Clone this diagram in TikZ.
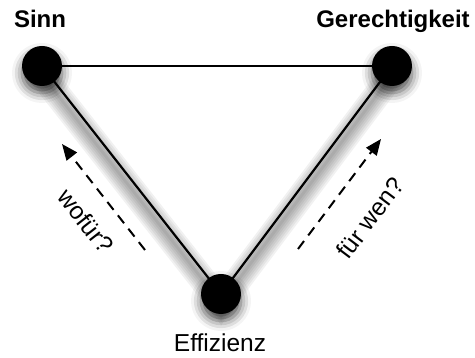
\documentclass[tikz,border=0pt]{standalone}
\usepackage{fontspec}
\setmainfont{Liberation Sans}
\usetikzlibrary{arrows.meta,shadows.blur}
\begin{document}
\begin{tikzpicture}[x=1pt,y=-1pt,
  dot/.style={circle,fill=black,minimum size=40pt,inner sep=0pt,
    blur shadow={shadow xshift=0pt,shadow yshift=-7pt,shadow blur radius=10pt,shadow opacity=70}},
  edge/.style={line width=2.2pt,black},
  shade/.style={line width=#1,black,opacity=0.055,line cap=round},
  lbl/.style={font=\fontsize{24}{28}\selectfont\bfseries,anchor=base},
  txt/.style={font=\fontsize{24.5}{28}\selectfont},
  darrow/.style={line width=2pt,dash pattern=on 10pt off 7pt,-{Triangle[length=16pt,width=13pt]}}]
\useasboundingbox (0,0) rectangle (475,358);
\coordinate (S) at (42,66);
\coordinate (G) at (392,66);
\coordinate (E) at (221,294);
% shadows of edges
\foreach \w in {3,7,11,15,19,23,27}{
  \draw[shade=\w pt] ([yshift=-9pt]S) -- ([yshift=-9pt]E) -- ([yshift=-9pt]G);
}
\draw[edge] (S) -- (G);
\draw[edge] (S) -- (E) -- (G);
\node[dot] (s) at (S) {};
\node[dot] (g) at (G) {};
\node[dot] (e) at (E) {};
\node[lbl] (ls) at (40,28) {Sinn};
\node[lbl] (lg) at (393,28) {Gerechtigkeit};
\node[txt,anchor=base] (le) at (220,352) {Effizienz};
\coordinate (a1s) at (145,250);
\coordinate (a1e) at (62,144);
\coordinate (a2s) at (298,249);
\coordinate (a2e) at (381,139);
\draw[darrow] (a1s) -- (a1e);
\draw[darrow] (a2s) -- (a2e);
\node[txt,rotate=-52] (w1) at (86,221) {wofür?};
\node[txt,rotate=53] (w2) at (370,218) {für wen?};
\end{tikzpicture}
\end{document}
